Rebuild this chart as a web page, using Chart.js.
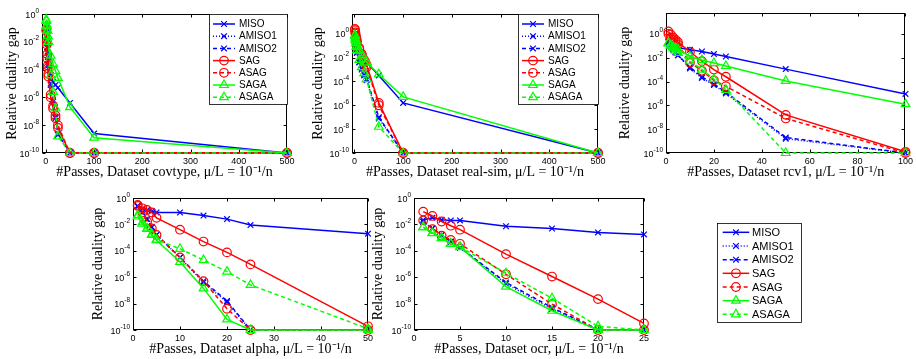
<!DOCTYPE html>
<html>
<head>
<meta charset="utf-8">
<script src="https://cdn.jsdelivr.net/npm/chart.js@4.4.0/dist/chart.umd.min.js"></script>
<style>
  body { margin: 0; background: #fff; width: 916px; height: 359px; position: relative; overflow: hidden; }
  canvas { position: absolute; }
</style>
</head>
<body>
<canvas id="c1" width="300" height="182" style="left:0;top:0"></canvas>
<canvas id="c2" width="306" height="182" style="left:306px;top:0"></canvas>
<canvas id="c3" width="303" height="182" style="left:613px;top:0"></canvas>
<canvas id="c4" width="294" height="179" style="left:86px;top:180px"></canvas>
<canvas id="c5" width="290" height="179" style="left:366px;top:180px"></canvas>
<canvas id="c6" width="216" height="130" style="left:700px;top:210px"></canvas>
<script>
// series (values are log10 of the relative duality gap)
const seriesNames = ['MISO', 'AMISO1', 'AMISO2', 'SAG', 'ASAG', 'SAGA', 'ASAGA'];
const yTickExps = [0, -2, -4, -6, -8, -10];

// covtype
const covtypePasses = [1, 2, 3, 4, 5, 10, 15, 20, 25, 50, 100, 500];
const covtypeTicks = [0, 100, 200, 300, 400, 500];
const covtypeMISO   = [-1.0, -1.5, -2.0, -2.5, -3.0, -4.4, -4.9, -5.1, -5.3, -6.4, -8.6, -10];
const covtypeAMISO1 = [-1.0, -1.7, -2.4, -3.1, -3.7, -5.1, -6.3, -7.5, -8.7, -10, -10, -10];
const covtypeAMISO2 = [-1.0, -1.7, -2.4, -3.0, -3.6, -5.0, -6.2, -7.4, -8.6, -10, -10, -10];
const covtypeSAG    = [-1.2, -2.2, -3.2, -3.9, -4.5, -6.0, -6.8, -7.5, -8.2, -10, -10, -10];
const covtypeASAG   = [-1.1, -2.0, -2.9, -3.7, -4.3, -5.8, -6.6, -7.3, -8.0, -10, -10, -10];
const covtypeSAGA   = [-0.5, -0.9, -1.2, -1.6, -2.0, -3.0, -3.6, -4.1, -4.6, -6.7, -8.9, -10];
const covtypeASAGA  = [-0.4, -0.8, -1.2, -1.6, -2.0, -4.4, -5.6, -6.8, -8.8, -10, -10, -10];

// real-sim
const realsimPasses = [1, 2, 3, 4, 5, 10, 15, 20, 25, 50, 100, 500];
const realsimTicks = [0, 100, 200, 300, 400, 500];
const realsimMISO   = [0.0, -0.3, -0.5, -0.7, -0.9, -1.4, -1.8, -2.1, -2.4, -3.5, -5.8, -10];
const realsimAMISO1 = [-0.3, -0.7, -1.0, -1.3, -1.6, -2.4, -3.0, -3.5, -3.9, -7.1, -10, -10];
const realsimAMISO2 = [-0.3, -0.7, -1.0, -1.3, -1.6, -2.4, -2.9, -3.4, -3.8, -7.0, -10, -10];
const realsimSAG    = [0.4, 0.1, -0.2, -0.4, -0.6, -1.2, -1.7, -2.2, -2.6, -5.8, -10, -10];
const realsimASAG   = [0.3, 0.0, -0.3, -0.5, -0.7, -1.3, -1.8, -2.3, -2.8, -6.0, -10, -10];
const realsimSAGA   = [-0.1, -0.4, -0.6, -0.8, -1.0, -1.4, -1.8, -2.1, -2.4, -3.4, -5.3, -10];
const realsimASAGA  = [-0.2, -0.5, -0.8, -1.1, -1.4, -2.2, -2.8, -3.3, -3.8, -7.8, -10, -10];

// rcv1
const rcv1Passes = [1, 2, 3, 4, 5, 10, 15, 20, 25, 50, 100];
const rcv1Ticks = [0, 20, 40, 60, 80, 100];
const rcv1MISO   = [-0.6, -0.8, -0.95, -1.05, -1.15, -1.34, -1.48, -1.7, -1.9, -2.96, -5.04];
const rcv1AMISO1 = [-0.7, -1.0, -1.3, -1.55, -1.8, -2.9, -3.7, -4.3, -5.0, -8.8, -10];
const rcv1AMISO2 = [-0.7, -1.0, -1.3, -1.55, -1.8, -2.8, -3.6, -4.2, -4.9, -8.7, -10];
const rcv1SAG    = [0.2, -0.05, -0.3, -0.5, -0.7, -1.5, -2.3, -3.0, -3.6, -6.8, -9.9];
const rcv1ASAG   = [0.0, -0.3, -0.5, -0.7, -0.9, -2.4, -3.1, -3.9, -4.4, -7.1, -10];
const rcv1SAGA   = [-0.75, -0.95, -1.1, -1.2, -1.3, -1.9, -2.2, -2.45, -2.7, -3.95, -5.9];
const rcv1ASAGA  = [-0.8, -1.0, -1.2, -1.4, -1.6, -2.3, -3.0, -3.8, -4.7, -10, -10];

// alpha
const alphaPasses = [1, 2, 3, 4, 5, 10, 15, 20, 25, 50];
const alphaTicks = [0, 10, 20, 30, 40, 50];
const alphaMISO   = [-0.65, -0.8, -0.9, -1.0, -1.1, -1.1, -1.33, -1.6, -2.05, -2.7];
const alphaAMISO1 = [-0.6, -1.1, -1.6, -2.2, -2.8, -4.5, -6.4, -7.9, -10, -10];
const alphaAMISO2 = [-0.6, -1.1, -1.6, -2.2, -2.8, -4.5, -6.3, -7.8, -10, -10];
const alphaSAG    = [-0.53, -0.78, -0.9, -1.1, -1.5, -2.4, -3.3, -4.12, -5.03, -9.72];
const alphaASAG   = [-0.6, -1.1, -1.8, -2.3, -2.8, -4.5, -6.3, -8.39, -10, -10];
const alphaSAGA   = [-1.4, -1.95, -2.35, -2.8, -3.2, -4.85, -6.85, -9.2, -10, -10];
const alphaASAGA  = [-1.3, -1.85, -2.3, -2.75, -3.15, -3.85, -4.7, -5.58, -6.58, -9.9];

// ocr
const ocrPasses = [1, 2, 3, 4, 5, 10, 15, 20, 25];
const ocrTicks = [0, 5, 10, 15, 20, 25];
const ocrMISO   = [-1.66, -1.5, -1.65, -1.7, -1.7, -2.14, -2.31, -2.61, -2.76];
const ocrAMISO1 = [-1.8, -2.3, -2.8, -3.3, -3.75, -6.5, -8.4, -10, -10];
const ocrAMISO2 = [-1.8, -2.3, -2.8, -3.3, -3.75, -6.4, -8.3, -10, -10];
const ocrSAG    = [-1.03, -1.36, -1.78, -2.1, -2.4, -4.25, -5.95, -7.66, -9.5];
const ocrASAG   = [-1.7, -2.36, -2.86, -3.17, -3.47, -5.78, -8.04, -10, -10];
const ocrSAGA   = [-2.2, -2.66, -3.04, -3.47, -3.72, -6.71, -8.54, -10, -10];
const ocrASAGA  = [-2.2, -2.65, -3.0, -3.45, -3.7, -5.7, -7.59, -9.72, -10];

// styles
const seriesColors = ['#0000ff', '#0000ff', '#0000ff', '#ff0000', '#ff0000', '#00ff00', '#00ff00'];
const seriesDash = [[], [1, 2], [4, 3], [], [4, 3], [], [4, 3]];
const seriesMarker = ['crossRot', 'crossRot', 'crossRot', 'circle', 'circle', 'triangle', 'triangle'];
const seriesRadius = [4, 4, 4, 4.3, 4.3, 5, 5];

const SANS = '"Liberation Sans", Arial, sans-serif';
const SERIF = '"Liberation Serif", "Times New Roman", serif';

function drawLegend(ctx, L) {
  ctx.save();
  ctx.fillStyle = '#fff';
  ctx.fillRect(L.x, L.y, L.w, L.h);
  ctx.strokeStyle = '#000';
  ctx.lineWidth = 0.8;
  ctx.strokeRect(L.x + 0.5, L.y + 0.5, L.w, L.h);
  ctx.font = L.font + 'px ' + SANS;
  ctx.textBaseline = 'middle';
  seriesNames.forEach((name, i) => {
    const cy = L.y + L.first + i * L.step;
    ctx.strokeStyle = seriesColors[i];
    ctx.lineWidth = 1.5;
    ctx.setLineDash(seriesDash[i]);
    ctx.beginPath();
    ctx.moveTo(L.x + L.line0, cy);
    ctx.lineTo(L.x + L.line0 + L.lineLen, cy);
    ctx.stroke();
    ctx.setLineDash([]);
    ctx.lineWidth = 1.2;
    ctx.fillStyle = 'rgba(0,0,0,0)';
    Chart.helpers.drawPoint(ctx, {pointStyle: seriesMarker[i], radius: seriesRadius[i], rotation: 0, borderWidth: 1.2},
      L.x + L.line0 + L.lineLen / 2, cy);
    ctx.fillStyle = '#000';
    ctx.fillText(name, L.x + L.text, cy + 0.5);
  });
  ctx.restore();
}

const matlabFrame = {
  id: 'matlabFrame',
  beforeDatasetsDraw(chart, args, opts) {
    const {ctx, chartArea: a, scales: {x, y}} = chart;
    if (!x || !y) return;
    ctx.save();
    ctx.strokeStyle = '#000';
    ctx.lineWidth = 1;
    const l = Math.round(a.left) + 0.5, r = Math.round(a.right) - 0.5;
    const t = Math.round(a.top) + 0.5, b = Math.round(a.bottom) - 0.5;
    ctx.strokeRect(l, t, r - l, b - t);
    ctx.beginPath();
    opts.xTicks.forEach(v => {
      const px = Math.round(x.getPixelForValue(v)) + 0.5;
      ctx.moveTo(px, b); ctx.lineTo(px, b - 3);
      ctx.moveTo(px, t); ctx.lineTo(px, t + 3);
    });
    yTickExps.forEach(e => {
      const py = Math.round(y.getPixelForValue(Math.pow(10, e))) + 0.5;
      ctx.moveTo(l, py); ctx.lineTo(l + 3, py);
      ctx.moveTo(r, py); ctx.lineTo(r - 3, py);
    });
    ctx.stroke();
    // y tick labels 10^k
    ctx.fillStyle = '#000';
    ctx.textAlign = 'right';
    ctx.textBaseline = 'alphabetic';
    yTickExps.forEach(e => {
      const py = y.getPixelForValue(Math.pow(10, e));
      const sup = String(e);
      ctx.font = '6.5px ' + SANS;
      const sw = ctx.measureText(sup).width;
      ctx.fillText(sup, a.left - 3, py - 1.5);
      ctx.font = '9px ' + SANS;
      ctx.fillText('10', a.left - 3 - sw, py + 3.5);
    });
    ctx.restore();
  },
  afterDraw(chart, args, opts) {
    if (opts.legend) drawLegend(chart.ctx, opts.legend);
  }
};

function makeChart(id, passes, series, xTicks, g) {
  const datasets = seriesNames.map((name, i) => ({
    label: name,
    data: passes.map((p, k) => ({x: p, y: Math.pow(10, series[i][k])})),
    borderColor: seriesColors[i],
    backgroundColor: 'rgba(0,0,0,0)',
    borderWidth: 1.5,
    borderDash: seriesDash[i],
    pointStyle: seriesMarker[i],
    pointRadius: seriesRadius[i],
    pointBorderWidth: 1.2,
    pointBorderColor: seriesColors[i],
    pointBackgroundColor: 'rgba(0,0,0,0)',
    tension: 0,
    clip: false,
    order: 6 - i
  }));
  return new Chart(document.getElementById(id), {
    type: 'line',
    data: {datasets},
    options: {
      responsive: false,
      animation: false,
      devicePixelRatio: 1,
      layout: {padding: {left: 0, right: g.padRight, top: g.padTop, bottom: 0}},
      plugins: {
        legend: {display: false},
        tooltip: {enabled: false},
        matlabFrame: {xTicks, legend: g.legend}
      },
      scales: {
        x: {
          type: 'linear', min: g.xMin, max: xTicks[xTicks.length - 1],
          afterBuildTicks: s => { s.ticks = xTicks.map(v => ({value: v})); },
          afterFit: s => { s.height = g.xHeight; },
          grid: {display: false, drawTicks: false},
          border: {display: false},
          ticks: {font: {family: SANS, size: 9}, color: '#000', padding: 3, maxRotation: 0, autoSkip: false},
          title: {display: true, text: g.xTitle, color: '#000', font: {family: SERIF, size: 14}, padding: {top: 0, bottom: 1}}
        },
        y: {
          type: 'logarithmic', min: 1e-10, max: g.yMax,
          afterFit: s => { s.width = g.yWidth; },
          grid: {display: false},
          border: {display: false},
          ticks: {display: false},
          title: {display: true, text: 'Relative duality gap', color: '#000', font: {family: SERIF, size: 14}, padding: {top: 4, bottom: 0}}
        }
      }
    },
    plugins: [matlabFrame]
  });
}

const smallLegend = {w: 78, h: 90, first: 10, step: 12.2, line0: 4, lineLen: 22, text: 30, font: 10};

makeChart('c1', covtypePasses,
  [covtypeMISO, covtypeAMISO1, covtypeAMISO2, covtypeSAG, covtypeASAG, covtypeSAGA, covtypeASAGA], covtypeTicks,
  {xMin: -8, yMax: 1, yWidth: 42, padRight: 13, padTop: 14, xHeight: 29,
   xTitle: '#Passes, Dataset covtype, \u03bc/L = 10\u207b\u00b9/n',
   legend: Object.assign({x: 209, y: 14}, smallLegend)});

makeChart('c2', realsimPasses,
  [realsimMISO, realsimAMISO1, realsimAMISO2, realsimSAG, realsimASAG, realsimSAGA, realsimASAGA], realsimTicks,
  {xMin: -5, yMax: Math.pow(10, 1.65), yWidth: 46, padRight: 14, padTop: 14, xHeight: 29,
   xTitle: '#Passes, Dataset real-sim, \u03bc/L = 10\u207b\u00b9/n',
   legend: Object.assign({x: 212, y: 14}, smallLegend, {w: 80})});

makeChart('c3', rcv1Passes,
  [rcv1MISO, rcv1AMISO1, rcv1AMISO2, rcv1SAG, rcv1ASAG, rcv1SAGA, rcv1ASAGA], rcv1Ticks,
  {xMin: 0, yMax: Math.pow(10, 1.75), yWidth: 53, padRight: 9, padTop: 13, xHeight: 29,
   xTitle: '#Passes, Dataset rcv1, \u03bc/L = 10\u207b\u00b9/n'});

makeChart('c4', alphaPasses,
  [alphaMISO, alphaAMISO1, alphaAMISO2, alphaSAG, alphaASAG, alphaSAGA, alphaASAGA], alphaTicks,
  {xMin: 0, yMax: 1, yWidth: 47, padRight: 12, padTop: 18, xHeight: 29,
   xTitle: '#Passes, Dataset alpha, \u03bc/L = 10\u207b\u00b9/n'});

makeChart('c5', ocrPasses,
  [ocrMISO, ocrAMISO1, ocrAMISO2, ocrSAG, ocrASAG, ocrSAGA, ocrASAGA], ocrTicks,
  {xMin: 0, yMax: 1, yWidth: 48, padRight: 12, padTop: 18, xHeight: 29,
   xTitle: '#Passes, Dataset ocr, \u03bc/L = 10\u207b\u00b9/n'});

// stand-alone legend
new Chart(document.getElementById('c6'), {
  type: 'line',
  data: {datasets: seriesNames.map(name => ({label: name, data: []}))},
  options: {
    responsive: false, animation: false, devicePixelRatio: 1,
    plugins: {legend: {display: false}, tooltip: {enabled: false}},
    scales: {x: {display: false}, y: {display: false}}
  },
  plugins: [{
    id: 'bigLegend',
    afterDraw(chart) {
      drawLegend(chart.ctx, {x: 17, y: 13, w: 84, h: 99, first: 9.3, step: 13.67, line0: 5.7, lineLen: 26.5, text: 35, font: 11});
    }
  }]
});
</script>
</body>
</html>
